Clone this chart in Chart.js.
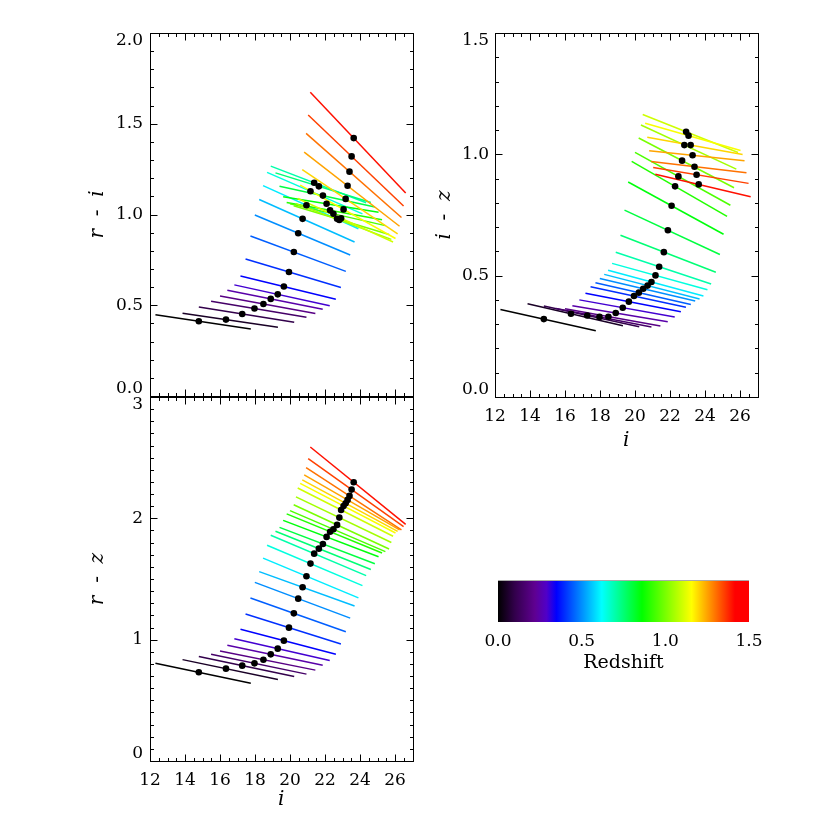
<!DOCTYPE html>
<html>
<head>
<meta charset="utf-8">
<script src="https://cdn.jsdelivr.net/npm/chart.js@4.4.1/dist/chart.umd.min.js"></script>
<style>
  body { margin: 0; background: #fff; }
  #wrap { position: relative; width: 830px; height: 830px; }
  canvas { position: absolute; }
</style>
</head>
<body>
<div id="wrap">
  <canvas id="riChart" width="430" height="400" style="left:0;top:0"></canvas>
  <canvas id="izChart" width="400" height="460" style="left:430px;top:0"></canvas>
  <canvas id="rzChart" width="430" height="440" style="left:0;top:390px"></canvas>
  <canvas id="zBar" width="300" height="130" style="left:470px;top:560px"></canvas>
</div>
<script>
// redshift of each track and its characteristic i magnitude (the black dot)
const redshift = [0.00, 0.05, 0.10, 0.15, 0.20, 0.25, 0.30, 0.35, 0.40, 0.45, 0.50, 0.55, 0.60, 0.65, 0.70,
                  0.75, 0.80, 0.85, 0.90, 0.95, 1.00, 1.05, 1.10, 1.15, 1.20, 1.25, 1.30, 1.35, 1.40];
const iMag = [14.79, 16.34, 17.27, 17.97, 18.48, 18.90, 19.30, 19.65, 19.94, 20.22, 20.47, 20.72, 20.94, 21.17, 21.38,
              21.65, 21.88, 22.09, 22.29, 22.48, 22.69, 22.82, 22.92, 23.06, 23.18, 23.29, 23.40, 23.52, 23.64];

// colours at the dot
const riColor = [0.412, 0.421, 0.452, 0.482, 0.507, 0.535, 0.560, 0.603, 0.683, 0.793, 0.897, 0.976, 1.051, 1.128, 1.175,
                 1.155, 1.104, 1.059, 1.023, 1.004, 0.976, 0.970, 0.979, 1.028, 1.086, 1.158, 1.236, 1.320, 1.421];
const izColor = [0.321, 0.343, 0.336, 0.330, 0.331, 0.346, 0.368, 0.393, 0.416, 0.430, 0.446, 0.459, 0.474, 0.501, 0.537,
                 0.597, 0.687, 0.788, 0.868, 0.909, 0.974, 1.038, 1.093, 1.077, 1.038, 0.996, 0.949, 0.916, 0.876];
const rzColor = [0.731, 0.761, 0.786, 0.805, 0.835, 0.879, 0.926, 0.992, 1.099, 1.217, 1.338, 1.432, 1.523, 1.627, 1.709,
                 1.750, 1.789, 1.847, 1.890, 1.910, 1.946, 2.006, 2.069, 2.102, 2.124, 2.152, 2.185, 2.237, 2.298];

// slope of each track (colour per magnitude)
const riSlope = [-0.0144, -0.0141, -0.0154, -0.0160, -0.0178, -0.0191, -0.0211, -0.0234, -0.0288, -0.0358, -0.0405, -0.0429, -0.0435, -0.0420, -0.0370,
                 -0.0300, -0.0210, -0.0155, -0.0176, -0.0220, -0.0290, -0.0360, -0.0440, -0.0540, -0.0650, -0.0750, -0.0850, -0.0920, -0.1020];
const izSlope = [-0.0161, -0.0165, -0.0157, -0.0140, -0.0130, -0.0120, -0.0130, -0.0139, -0.0156, -0.0165, -0.0170, -0.0187, -0.0194, -0.0200, -0.0240,
                 -0.0280, -0.0336, -0.0395, -0.0415, -0.0400, -0.0376, -0.0334, -0.0287, -0.0205, -0.0130, -0.0077, -0.0085, -0.0120, -0.0170];
const rzSlope = [-0.0302, -0.0300, -0.0300, -0.0300, -0.0290, -0.0300, -0.0330, -0.0376, -0.0455, -0.0510, -0.0540, -0.0520, -0.0600, -0.0610, -0.0610,
                 -0.0580, -0.0550, -0.0550, -0.0590, -0.0620, -0.0670, -0.0690, -0.0730, -0.0750, -0.0780, -0.0830, -0.0940, -0.1030, -0.1170];

// bright and faint end of each track, in magnitudes from the dot
const magSpan = [-2.48, 2.97];

// colour table (redshift -> rgb)
const cmapZ = [0, 0.10, 0.22, 0.29, 0.35, 0.62, 0.86, 1.157, 1.416, 1.5];
const cmapRGB = [[0, 0, 0], [50, 0, 75], [95, 0, 145], [80, 0, 200], [0, 0, 255], [0, 255, 255],
                 [0, 255, 0], [255, 255, 0], [255, 0, 0], [255, 0, 0]];

const FONT = "'DejaVu Serif', serif";
Chart.defaults.color = '#000';
Chart.defaults.font.family = FONT;
Chart.defaults.font.size = 17;

function rgb(c) { return 'rgb(' + c.map(Math.round).join(',') + ')'; }

function redshiftColor(z) {
  for (let k = 1; k < cmapZ.length; k++) {
    if (z <= cmapZ[k]) {
      const t = (z - cmapZ[k - 1]) / (cmapZ[k] - cmapZ[k - 1]);
      return rgb(cmapRGB[k - 1].map((c, j) => c + t * (cmapRGB[k][j] - c)));
    }
  }
  return rgb(cmapRGB[cmapRGB.length - 1]);
}

// box round the plot with inward major and minor ticks on all four sides
const idlFrame = {
  id: 'idlFrame',
  afterDatasetsDraw(chart, args, opts) {
    const {ctx, chartArea: a, scales: {x, y}} = chart;
    const snap = v => Math.round(v) + 0.5;
    const L = snap(a.left), R = snap(a.right), T = snap(a.top), B = snap(a.bottom);
    ctx.save();
    ctx.strokeStyle = '#000';
    ctx.lineWidth = 1;
    ctx.beginPath();
    ctx.rect(L, T, R - L, B - T);
    const run = (scale, step, fn) => {
      const n = Math.floor((scale.max - scale.min) / step + 1e-6);
      for (let k = 0; k <= n; k++) fn(snap(scale.getPixelForValue(scale.min + k * step)));
    };
    [[opts.xMinor, 3.5], [opts.xMajor, 7]].forEach(([step, len]) => run(x, step, p => {
      ctx.moveTo(p, B); ctx.lineTo(p, B - len);
      ctx.moveTo(p, T); ctx.lineTo(p, T + len);
    }));
    [[opts.yMinor, 3.5], [opts.yMajor, 7]].forEach(([step, len]) => run(y, step, p => {
      ctx.moveTo(L, p); ctx.lineTo(L + len, p);
      ctx.moveTo(R, p); ctx.lineTo(R - len, p);
    }));
    ctx.stroke();
    ctx.restore();
  }
};

function zeroPad(s) { s.paddingLeft = 0; s.paddingRight = 0; s.paddingTop = 0; s.paddingBottom = 0; }

function colourPanel(canvasId, colour, slope, cfg) {
  const datasets = redshift.map((z, k) => ({
    data: magSpan.map(d => ({x: iMag[k] + d, y: colour[k] + slope[k] * d})),
    showLine: true,
    borderColor: redshiftColor(z),
    borderWidth: 1.5,
    pointRadius: 0,
    order: redshift.length - k
  }));
  datasets.push({
    data: iMag.map((m, k) => ({x: m, y: colour[k]})),
    pointRadius: 3.3,
    backgroundColor: '#000',
    borderWidth: 0,
    order: 0
  });

  return new Chart(document.getElementById(canvasId), {
    type: 'scatter',
    data: {datasets},
    options: {
      responsive: false,
      animation: false,
      devicePixelRatio: 1,
      layout: {padding: cfg.pad},
      plugins: {
        legend: {display: false},
        tooltip: {enabled: false},
        idlFrame: {xMajor: 2, xMinor: 0.5, yMajor: cfg.yStep, yMinor: cfg.yMinor}
      },
      scales: {
        x: {
          type: 'linear', min: 12, max: 27,
          grid: {display: false, drawTicks: false},
          border: {display: false},
          ticks: {display: cfg.xLabels, stepSize: 2, includeBounds: false, padding: 9,
                  callback: v => String(v)},
          title: {display: cfg.xLabels, text: 'i', font: {size: 20, style: 'italic'},
                  padding: {top: 0, bottom: cfg.xTitlePad}},
          afterFit: s => { s.height = cfg.xH; zeroPad(s); }
        },
        y: {
          type: 'linear', min: cfg.yMin, max: cfg.yMax,
          grid: {display: false, drawTicks: false},
          border: {display: false},
          ticks: {
            stepSize: cfg.yStep, padding: cfg.yTickPad, font: {lineHeight: 0.85},
            callback: v => {
              const s = v.toFixed(cfg.yDec);
              if (v === cfg.yMin) return [s, ''];
              if (v === cfg.yMax) return ['', s];
              return s;
            }
          },
          title: {display: true, text: cfg.yTitle, font: {size: 20, style: 'italic'},
                  padding: {top: cfg.yTitlePad, bottom: 0}},
          afterFit: s => { s.width = cfg.yW; zeroPad(s); }
        }
      }
    },
    plugins: [idlFrame]
  });
}

colourPanel('riChart', riColor, riSlope, {
  pad: {left: 0, top: 33, right: 17.5, bottom: 0}, yW: 150, xH: 3,
  yMin: 0, yMax: 2, yStep: 0.5, yMinor: 0.1, yDec: 1, yTickPad: 7,
  yTitle: 'r  -  i', yTitlePad: 86, xLabels: false, xTitlePad: 0
});

colourPanel('izChart', izColor, izSlope, {
  pad: {left: 0, top: 33, right: 72.5, bottom: 0}, yW: 65, xH: 63,
  yMin: 0, yMax: 1.5, yStep: 0.5, yMinor: 0.1, yDec: 1, yTickPad: 6,
  yTitle: 'i  -  z', yTitlePad: 3, xLabels: true, xTitlePad: 7
});

colourPanel('rzChart', rzColor, rzSlope, {
  pad: {left: 0, top: 7, right: 17.5, bottom: 0}, yW: 150, xH: 69,
  yMin: 0, yMax: 3, yStep: 1, yMinor: 0.1, yDec: 0, yTickPad: 7,
  yTitle: 'r  -  z', yTitlePad: 86, xLabels: true, xTitlePad: 18
});

// colour bar
const redshiftRamp = {
  id: 'redshiftRamp',
  beforeDatasetsDraw(chart) {
    const {ctx, chartArea: a, scales: {x}} = chart;
    const g = ctx.createLinearGradient(a.left, 0, a.right, 0);
    cmapZ.forEach((z, k) => {
      g.addColorStop((x.getPixelForValue(z) - a.left) / (a.right - a.left), rgb(cmapRGB[k]));
    });
    ctx.save();
    ctx.fillStyle = g;
    ctx.fillRect(a.left, a.top, a.right - a.left, a.bottom - a.top);
    ctx.strokeStyle = '#aaa';
    ctx.lineWidth = 1;
    ctx.beginPath();
    ctx.moveTo(a.left, Math.round(a.top) + 0.5);
    ctx.lineTo(a.right, Math.round(a.top) + 0.5);
    ctx.stroke();
    ctx.restore();
  }
};

new Chart(document.getElementById('zBar'), {
  type: 'scatter',
  data: {datasets: []},
  options: {
    responsive: false,
    animation: false,
    devicePixelRatio: 1,
    layout: {padding: {left: 28, top: 20, right: 21, bottom: 0}},
    plugins: {legend: {display: false}, tooltip: {enabled: false}},
    scales: {
      x: {
        type: 'linear', min: 0, max: 1.5,
        grid: {display: false, drawTicks: false},
        border: {display: false},
        ticks: {stepSize: 0.5, padding: 9.5, callback: v => v.toFixed(1)},
        title: {display: true, text: 'Redshift', font: {size: 19}, padding: {top: 0, bottom: 15.6}},
        afterFit: s => { s.height = 68; zeroPad(s); }
      },
      y: {display: false, min: 0, max: 1}
    }
  },
  plugins: [redshiftRamp]
});
</script>
</body>
</html>
